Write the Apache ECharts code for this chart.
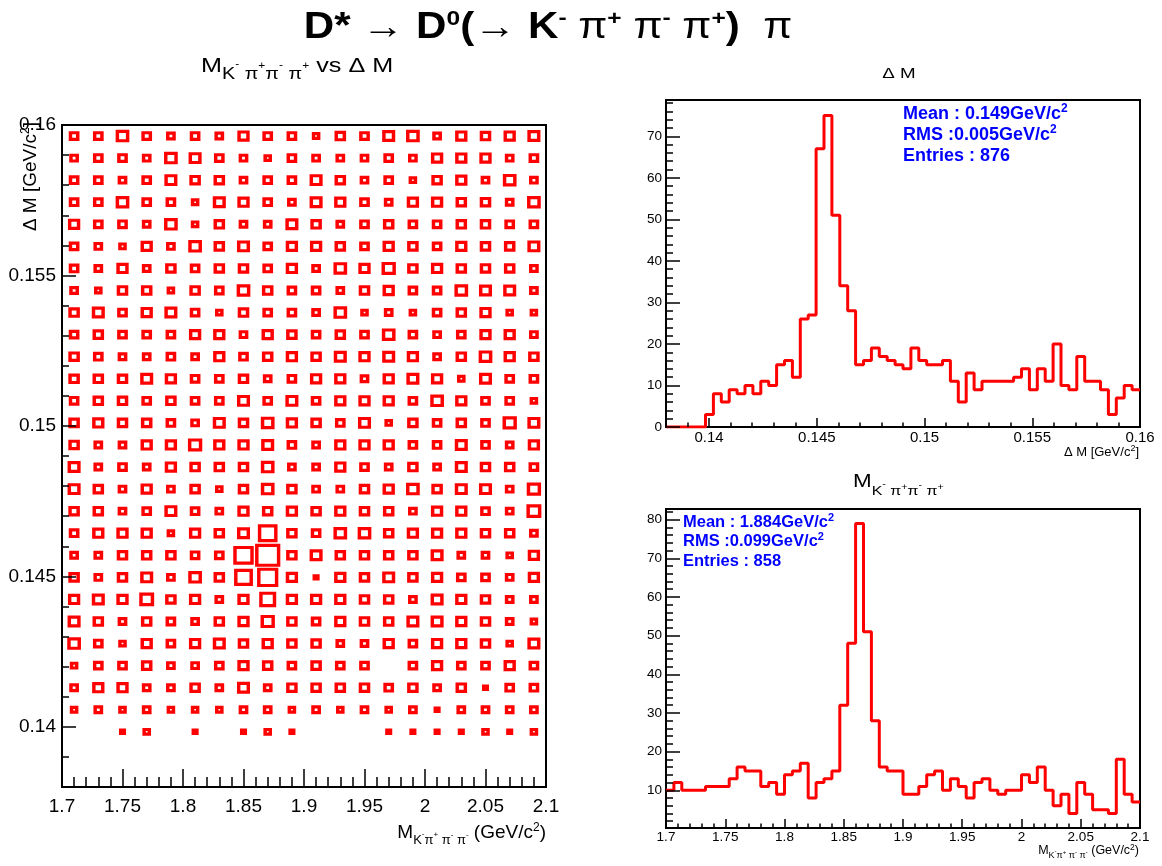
<!DOCTYPE html>
<html><head><meta charset="utf-8">
<script src="https://cdn.jsdelivr.net/npm/echarts@6/dist/echarts.min.js"></script>
<style>html,body{margin:0;padding:0;background:#fff}#c{width:1162px;height:866px}</style>
</head><body><div id="c"></div>
<script>
// ---------- DATA ----------
// 2D box histogram: M(K-pi+pi-pi+) bins 1.70..2.10 (20 bins), Delta M bins 0.138..0.160 (30 bins)
// rows listed from top (y-bin 29) down to y-bin 2 (bins 0,1 empty)
const boxXMin = 1.7, boxXMax = 2.1, boxXBins = 20;
const boxYMin = 0.138, boxYMax = 0.16, boxYBins = 30;
const boxRows = [
 [4,4,8,4,3,4,3,6,4,4,2,5,4,7,8,3,6,5,6,7],
 [3,4,4,3,8,7,4,3,2,4,3,3,3,4,3,6,6,6,3,4],
 [4,4,3,4,7,5,5,3,4,4,7,5,3,4,2,5,6,3,8,3],
 [4,4,8,4,4,2,7,6,4,3,7,6,4,3,6,6,5,5,3,8],
 [6,4,4,3,8,2,5,3,3,7,5,3,4,5,4,4,5,5,4,4],
 [4,3,2,6,3,8,5,7,4,6,6,5,4,6,5,4,6,5,5,7],
 [4,3,6,3,5,4,5,5,4,6,3,8,6,9,5,6,5,5,5,3],
 [3,2,5,5,2,5,4,8,5,4,4,3,5,6,4,4,8,7,7,3],
 [5,7,4,6,7,4,2,5,4,4,3,8,2,3,2,4,5,6,2,2],
 [4,5,4,4,4,6,6,3,6,5,4,5,4,8,4,3,4,6,6,3],
 [5,4,3,3,4,3,6,4,5,6,5,7,6,7,6,3,5,8,6,5],
 [5,5,5,7,6,4,4,5,3,4,6,6,3,6,7,6,2,7,4,4],
 [4,5,5,4,5,4,4,7,4,7,4,6,6,6,4,8,6,4,4,2],
 [5,6,5,5,4,3,7,5,8,6,5,4,7,2,5,4,5,4,9,7],
 [5,3,3,6,6,9,6,6,7,4,3,6,6,6,4,4,7,4,3,6],
 [7,3,4,3,6,5,5,5,8,3,3,6,4,3,5,3,7,5,5,4],
 [7,5,3,6,3,5,2,5,8,5,3,3,5,6,8,5,7,7,3,9],
 [5,5,3,4,7,4,3,6,5,6,5,6,5,5,3,6,6,4,3,10],
 [4,6,6,6,2,6,5,7,20,5,4,8,8,5,6,6,6,5,5,3],
 [3,3,5,5,5,4,4,22,36,5,7,5,5,5,5,7,3,3,2,6],
 [5,3,5,7,3,8,5,18,24,6,1,6,5,7,5,6,4,4,3,6],
 [6,7,6,10,5,6,3,6,14,6,6,6,5,5,3,7,6,5,3,3],
 [7,5,3,5,4,3,5,6,9,5,4,6,5,5,7,7,6,5,3,2],
 [8,4,2,6,4,6,7,5,6,5,5,3,3,6,4,6,6,5,2,7],
 [2,4,4,5,3,3,4,6,5,4,5,4,4,0,4,6,4,4,6,4],
 [3,6,6,3,3,5,3,7,3,5,5,5,5,4,5,3,5,1,4,4],
 [2,3,2,3,2,2,2,3,3,2,3,2,3,2,3,1,3,3,3,3],
 [0,0,1,2,0,1,0,1,2,1,0,0,0,1,1,1,1,2,1,2]
];
// Delta M histogram, 60 bins 0.138..0.160
const dmMin = 0.138, dmMax = 0.16;
const dmCounts = [0,0,0,0,0,3,8,6,9,8,10,8,11,10,15,16,12,26,27,67,75,51,34,28,15,16,19,17,16,15,
                  14,19,16,15,15,16,11,6,13,9,11,11,11,11,12,14,9,14,11,20,10,9,17,11,11,9,3,7,10,9];
// M(K-pi+pi-pi+) histogram, 60 bins 1.70..2.10
const mMin = 1.7, mMax = 2.1;
const mCounts = [10,12,10,10,10,11,11,11,13,16,15,15,11,12,9,14,15,17,8,12,13,15,32,48,79,51,28,16,15,15,
                 9,9,11,14,15,10,13,11,8,12,13,10,9,10,10,14,12,16,10,6,9,4,12,9,5,5,4,18,9,7];
// tick labels
const boxXTicks = [1.7,1.75,1.8,1.85,1.9,1.95,2,2.05,2.1];
const boxYTicks = [0.14,0.145,0.15,0.155,0.16];
const dmXTicks = [0.14,0.145,0.15,0.155,0.16];
const dmYTicks = [0,10,20,30,40,50,60,70];
const mXTicks = [1.7,1.75,1.8,1.85,1.9,1.95,2,2.05,2.1];
const mYTicks = [10,20,30,40,50,60,70,80];
const dmYMax = 78.75, mYMinV = 0.25, mYMaxV = 82.75;
// stats texts
const dmStats = ['Mean : 0.149GeV/c', 'RMS :0.005GeV/c', 'Entries : 876'];
const mStats = ['Mean : 1.884GeV/c', 'RMS :0.099GeV/c', 'Entries : 858'];

// ---------- LAYOUT ----------
const F = '"Liberation Sans", Arial, Helvetica, sans-serif';
const G0 = {left:62, top:125, width:484, height:662};
const G1 = {left:666, top:100, width:474, height:327};
const G2 = {left:666, top:509, width:474, height:319};

function range(a, b, step, dec) { const out = []; const n = Math.round((b - a) / step); for (let k = 0; k <= n; k++) out.push(+(a + k * step).toFixed(dec)); return out; }
const fmt = v => String(+(+v).toFixed(4));

function axisPair(dim, gi, min, max, major, minor, o) {
  const main = {
    gridIndex: gi, type: 'value', min, max, position: dim === 'x' ? 'bottom' : 'left',
    axisLine: {show: false}, splitLine: {show: false},
    axisTick: {show: true, inside: true, length: o.maj, customValues: major, lineStyle: {color: '#000', width: 1.5}},
    axisLabel: {show: true, customValues: major, formatter: fmt, margin: o.margin, fontSize: o.fs, color: '#000', fontFamily: F},
    z: 5
  };
  const mn = {
    gridIndex: gi, type: 'value', min, max, position: dim === 'x' ? 'bottom' : 'left',
    axisLine: {show: false}, splitLine: {show: false},
    axisTick: {show: true, inside: true, length: o.min, customValues: minor, lineStyle: {color: '#000', width: 1.5}},
    axisLabel: {show: false, customValues: minor},
    z: 5
  };
  return [main, mn];
}

const xAxes = [].concat(
  axisPair('x', 0, boxXMin, boxXMax, boxXTicks, range(1.7, 2.1, 0.01, 3), {maj: 18, min: 10, margin: 10, fs: 19}),
  axisPair('x', 1, dmMin, dmMax, dmXTicks, range(0.138, 0.16, 0.001, 4), {maj: 9, min: 4.5, margin: 3, fs: 15}),
  axisPair('x', 2, mMin, mMax, mXTicks, range(1.7, 2.1, 0.01, 3), {maj: 9, min: 4.5, margin: 2, fs: 13.5})
);
const yAxes = [].concat(
  axisPair('y', 0, boxYMin, boxYMax, boxYTicks, range(0.138, 0.16, 0.001, 4), {maj: 14, min: 7, margin: 6, fs: 19}),
  axisPair('y', 1, 0, dmYMax, dmYTicks, range(0, 78, 2, 0), {maj: 14, min: 7, margin: 4, fs: 13.5}),
  axisPair('y', 2, mYMinV, mYMaxV, mYTicks, range(2, 82, 2, 0), {maj: 14, min: 7, margin: 4, fs: 13.5})
);

// box data
const bw = (boxXMax - boxXMin) / boxXBins, bh = (boxYMax - boxYMin) / boxYBins;
const boxData = [];
let zMax = 0;
boxRows.forEach((row, r) => {
  const yb = boxYBins - 1 - r;
  row.forEach((z, c) => {
    if (z > 0) { boxData.push([boxXMin + (c + 0.5) * bw, boxYMin + (yb + 0.5) * bh, z]); zMax = Math.max(zMax, z); }
  });
});
const cellW = G0.width / boxXBins, cellH = G0.height / boxYBins;

function histPts(counts, lo, hi) {
  const w = (hi - lo) / counts.length, pts = [];
  counts.forEach((v, i) => pts.push([lo + i * w, v]));
  pts.push([hi, counts[counts.length - 1]]);
  return pts;
}

// rich text helper: parts = [text, size, centerFromTop, bold]
function rtext(x, y, align, parts, color, extra) {
  const rich = {}; let s = '';
  parts.forEach((p, i) => {
    const [txt, size, c, bold] = p;
    const nm = 't' + i;
    rich[nm] = {fontSize: size, fontFamily: F, fontWeight: bold ? 'bold' : 'normal', fill: color, lineHeight: size,
                verticalAlign: 'top', padding: [Math.max(0, c - size / 2), 0, 0, 0]};
    s += '{' + nm + '|' + txt + '}';
  });
  return Object.assign({type: 'text', x, y, silent: true, z: 100,
    style: {text: s, rich, align, verticalAlign: 'top', fontSize: 12, fontFamily: F, fill: color}}, extra || {});
}

const graphics = [];
// main title (line top at y=8)
graphics.push(rtext(548, 8, 'center', [
  ['D*', 36, 20, 1], [' ', 36, 20, 1], ['→', 36, 20, 0], [' ', 36, 20, 1], ['D', 36, 20, 1], ['0', 21, 11, 1],
  ['(', 36, 20, 1], ['→', 36, 20, 0], [' K', 36, 20, 1], ['-', 21, 6, 1], [' ', 36, 20, 1],
  ['π', 36, 20, 0], ['+', 21, 11, 1], [' ', 36, 20, 1], ['π', 36, 20, 0], ['-', 21, 7, 1], [' ', 36, 20, 1],
  ['π', 36, 20, 0], ['+', 21, 11, 1], [')', 36, 20, 1], ['  ', 36, 20, 1], ['π', 36, 20, 0]
], '#000', {scaleX: 1.17}));
// left subtitle
graphics.push(rtext(201, 55, 'left', [
  ['M', 21, 11.5], ['K', 16.5, 19.5], ['-', 10, 9], [' π', 16.5, 19.5], ['+', 10, 11], ['π', 16.5, 19.5], ['-', 10, 10],
  [' π', 16.5, 19.5], ['+', 10, 11], [' vs Δ M', 21, 11.5]
], '#000', {scaleX: 1.2}));
// top right title
graphics.push(rtext(899, 66, 'center', [['Δ M', 15, 8]], '#000', {scaleX: 1.25}));
// bottom right title
graphics.push(rtext(853, 472, 'left', [
  ['M', 19, 9.5], ['K', 13.5, 19], ['-', 9, 13], [' π', 13.5, 19], ['+', 9, 16], ['π', 13.5, 19], ['-', 9, 14],
  [' π', 13.5, 19], ['+', 9, 16]
], '#000', {scaleX: 1.18}));
// stats
const dmStatY = [103, 124, 145];
dmStats.forEach((t, i) => {
  const parts = [[t, 18, 11, 1]];
  if (i < 2) parts.push(['2', 12, 6, 1]);
  graphics.push(rtext(903, dmStatY[i], 'left', parts, '#0000ff'));
});
const mStatY = [512, 531, 550.5];
mStats.forEach((t, i) => {
  const parts = [[t, 16.5, 10.5, 1]];
  if (i < 2) parts.push(['2', 11, 5, 1]);
  graphics.push(rtext(683, mStatY[i], 'left', parts, '#0000ff'));
});
// left x axis title
graphics.push(rtext(546, 822, 'right', [
  ['M', 19, 11], ['K', 13, 18.5], ['-', 8, 12], ['π', 13, 18.5], ['+', 8, 13], [' π', 13, 18.5], ['-', 8, 13],
  [' π', 13, 18.5], ['-', 8, 13], [' (GeV/c', 19, 11], ['2', 12, 5], [')', 19, 11]
], '#000'));
// left y axis title (rotated)
graphics.push(rtext(20, 122, 'right', [['Δ M [GeV/c', 19, 10.5], ['2', 12, 4.5], [']', 19, 10.5]], '#000',
  {rotation: Math.PI / 2}));
// top right x title
graphics.push(rtext(1139, 444, 'right', [['Δ M [GeV/c', 13, 8], ['2', 9, 4], [']', 13, 8]], '#000'));
// bottom right x title
graphics.push(rtext(1139, 843, 'right', [
  ['M', 12.5, 7.5], ['K', 9, 12.5], ['-', 6, 8], ['π', 9, 12.5], ['+', 6, 9], [' π', 9, 12.5], ['-', 6, 9],
  [' π', 9, 12.5], ['-', 6, 9], [' (GeV/c', 12.5, 7.5], ['2', 8.5, 3.5], [')', 12.5, 7.5]
], '#000'));

const chart = echarts.init(document.getElementById('c'), null, {renderer: 'canvas'});
chart.setOption({
  animation: false,
  backgroundColor: '#ffffff',
  grid: [G0, G1, G2].map(g => Object.assign({show: true, borderColor: '#000', borderWidth: 2, backgroundColor: 'transparent', containLabel: false}, g)),
  xAxis: xAxes,
  yAxis: yAxes,
  graphic: graphics,
  series: [
    {type: 'scatter', xAxisIndex: 0, yAxisIndex: 0, data: boxData, symbol: 'rect', silent: true,
     symbolSize: v => { const r = 0.9 * Math.sqrt(v[2] / zMax); return [cellW * r, cellH * r]; },
     itemStyle: {color: 'rgba(255,255,255,0)', borderColor: '#ff0000', borderWidth: 3.3, opacity: 1}},
    {type: 'line', xAxisIndex: 2, yAxisIndex: 2, data: histPts(dmCounts, dmMin, dmMax), step: 'end', symbol: 'none',
     silent: true, lineStyle: {color: '#ff0000', width: 3}},
    {type: 'line', xAxisIndex: 4, yAxisIndex: 4, data: histPts(mCounts, mMin, mMax), step: 'end', symbol: 'none',
     silent: true, lineStyle: {color: '#ff0000', width: 3}}
  ]
});
</script></body></html>
